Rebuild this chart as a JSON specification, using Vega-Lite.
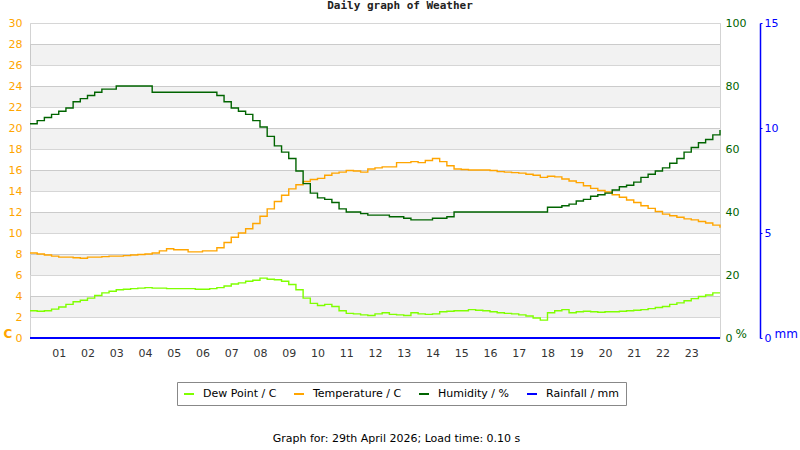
{
  "$schema": "https://vega.github.io/schema/vega-lite/v6.json",
  "width": 690,
  "height": 315,
  "autosize": {"type": "none"},
  "padding": {"left": 30, "top": 23, "right": 80, "bottom": 112},
  "background": "white",
  "title": {
    "text": "Daily graph of Weather",
    "font": "DejaVu Sans Mono",
    "fontSize": 11,
    "fontWeight": "bold",
    "color": "#222",
    "anchor": "middle",
    "dx": 25,
    "offset": 6
  },
  "config": {
    "font": "DejaVu Sans",
    "view": {"stroke": "#d3d3d3"},
    "axis": {"labelOverlap": false, "labelFlush": false, "tickCount": 50}
  },
  "datasets": {
    "bands": [
      {"lo": 2, "hi": 4}, {"lo": 6, "hi": 8}, {"lo": 10, "hi": 12}, {"lo": 14, "hi": 16},
      {"lo": 18, "hi": 20}, {"lo": 22, "hi": 24}, {"lo": 26, "hi": 28}
    ],
    "rain": [{"h": 0, "r": 0}, {"h": 24, "r": 0}],
    "w": [
      {"h": 0, "t": 8.1, "d": 2.6, "hm": 68},
      {"h": 0.25, "t": 8.0, "d": 2.55, "hm": 69},
      {"h": 0.5, "t": 7.9, "d": 2.6, "hm": 70},
      {"h": 0.75, "t": 7.8, "d": 2.75, "hm": 71},
      {"h": 1, "t": 7.7, "d": 2.95, "hm": 72},
      {"h": 1.25, "t": 7.7, "d": 3.2, "hm": 73},
      {"h": 1.5, "t": 7.65, "d": 3.45, "hm": 75},
      {"h": 1.75, "t": 7.6, "d": 3.6, "hm": 76},
      {"h": 2, "t": 7.7, "d": 3.8, "hm": 77},
      {"h": 2.25, "t": 7.7, "d": 4.05, "hm": 78},
      {"h": 2.5, "t": 7.75, "d": 4.3, "hm": 79},
      {"h": 2.75, "t": 7.8, "d": 4.45, "hm": 79},
      {"h": 3, "t": 7.8, "d": 4.6, "hm": 80},
      {"h": 3.25, "t": 7.85, "d": 4.65, "hm": 80},
      {"h": 3.5, "t": 7.9, "d": 4.7, "hm": 80},
      {"h": 3.75, "t": 7.95, "d": 4.75, "hm": 80},
      {"h": 4, "t": 8.0, "d": 4.8, "hm": 80},
      {"h": 4.25, "t": 8.1, "d": 4.75, "hm": 78},
      {"h": 4.5, "t": 8.3, "d": 4.75, "hm": 78},
      {"h": 4.75, "t": 8.5, "d": 4.7, "hm": 78},
      {"h": 5, "t": 8.4, "d": 4.7, "hm": 78},
      {"h": 5.25, "t": 8.4, "d": 4.7, "hm": 78},
      {"h": 5.5, "t": 8.2, "d": 4.7, "hm": 78},
      {"h": 5.75, "t": 8.2, "d": 4.65, "hm": 78},
      {"h": 6, "t": 8.3, "d": 4.65, "hm": 78},
      {"h": 6.25, "t": 8.3, "d": 4.7, "hm": 78},
      {"h": 6.5, "t": 8.6, "d": 4.8, "hm": 77},
      {"h": 6.75, "t": 9.1, "d": 4.95, "hm": 75},
      {"h": 7, "t": 9.6, "d": 5.15, "hm": 73},
      {"h": 7.25, "t": 10.0, "d": 5.25, "hm": 72},
      {"h": 7.5, "t": 10.4, "d": 5.4, "hm": 71},
      {"h": 7.75, "t": 10.9, "d": 5.5, "hm": 69},
      {"h": 8, "t": 11.6, "d": 5.7, "hm": 67},
      {"h": 8.25, "t": 12.3, "d": 5.6, "hm": 64},
      {"h": 8.5, "t": 13.0, "d": 5.55, "hm": 61},
      {"h": 8.75, "t": 13.6, "d": 5.4, "hm": 59},
      {"h": 9, "t": 14.2, "d": 5.1, "hm": 57},
      {"h": 9.25, "t": 14.6, "d": 4.6, "hm": 53},
      {"h": 9.5, "t": 14.9, "d": 3.8, "hm": 49},
      {"h": 9.75, "t": 15.1, "d": 3.3, "hm": 46},
      {"h": 10, "t": 15.2, "d": 3.1, "hm": 44.5},
      {"h": 10.25, "t": 15.5, "d": 3.2, "hm": 44},
      {"h": 10.5, "t": 15.7, "d": 3.0, "hm": 43},
      {"h": 10.75, "t": 15.8, "d": 2.6, "hm": 41},
      {"h": 11, "t": 15.95, "d": 2.35, "hm": 40},
      {"h": 11.25, "t": 15.9, "d": 2.3, "hm": 40},
      {"h": 11.5, "t": 15.8, "d": 2.2, "hm": 39.5},
      {"h": 11.75, "t": 16.1, "d": 2.15, "hm": 39},
      {"h": 12, "t": 16.2, "d": 2.3, "hm": 39},
      {"h": 12.25, "t": 16.3, "d": 2.4, "hm": 39},
      {"h": 12.5, "t": 16.3, "d": 2.25, "hm": 38.5},
      {"h": 12.75, "t": 16.7, "d": 2.2, "hm": 38.5},
      {"h": 13, "t": 16.7, "d": 2.15, "hm": 38},
      {"h": 13.25, "t": 16.8, "d": 2.4, "hm": 37.5},
      {"h": 13.5, "t": 16.7, "d": 2.3, "hm": 37.5},
      {"h": 13.75, "t": 16.9, "d": 2.25, "hm": 37.5},
      {"h": 14, "t": 17.1, "d": 2.3, "hm": 38},
      {"h": 14.25, "t": 16.8, "d": 2.5, "hm": 38},
      {"h": 14.5, "t": 16.4, "d": 2.55, "hm": 38.5},
      {"h": 14.75, "t": 16.1, "d": 2.6, "hm": 40},
      {"h": 15, "t": 16.05, "d": 2.6, "hm": 40},
      {"h": 15.25, "t": 16.0, "d": 2.7, "hm": 40},
      {"h": 15.5, "t": 16.0, "d": 2.65, "hm": 40},
      {"h": 15.75, "t": 16.0, "d": 2.6, "hm": 40},
      {"h": 16, "t": 15.95, "d": 2.5, "hm": 40},
      {"h": 16.25, "t": 15.85, "d": 2.4, "hm": 40},
      {"h": 16.5, "t": 15.8, "d": 2.35, "hm": 40},
      {"h": 16.75, "t": 15.75, "d": 2.3, "hm": 40},
      {"h": 17, "t": 15.7, "d": 2.2, "hm": 40},
      {"h": 17.25, "t": 15.6, "d": 2.1, "hm": 40},
      {"h": 17.5, "t": 15.5, "d": 1.9, "hm": 40},
      {"h": 17.75, "t": 15.3, "d": 1.7, "hm": 40},
      {"h": 18, "t": 15.4, "d": 2.4, "hm": 41.5},
      {"h": 18.25, "t": 15.35, "d": 2.6, "hm": 41.5},
      {"h": 18.5, "t": 15.15, "d": 2.7, "hm": 42},
      {"h": 18.75, "t": 14.95, "d": 2.4, "hm": 42.5},
      {"h": 19, "t": 14.8, "d": 2.5, "hm": 43.5},
      {"h": 19.25, "t": 14.5, "d": 2.55, "hm": 44},
      {"h": 19.5, "t": 14.25, "d": 2.5, "hm": 45},
      {"h": 19.75, "t": 14.05, "d": 2.45, "hm": 45.5},
      {"h": 20, "t": 13.9, "d": 2.5, "hm": 46},
      {"h": 20.25, "t": 13.65, "d": 2.5, "hm": 47},
      {"h": 20.5, "t": 13.4, "d": 2.55, "hm": 48},
      {"h": 20.75, "t": 13.15, "d": 2.6, "hm": 48.5},
      {"h": 21, "t": 12.9, "d": 2.65, "hm": 49.5},
      {"h": 21.25, "t": 12.6, "d": 2.7, "hm": 51},
      {"h": 21.5, "t": 12.35, "d": 2.8, "hm": 52},
      {"h": 21.75, "t": 12.05, "d": 2.9, "hm": 53},
      {"h": 22, "t": 11.8, "d": 3.0, "hm": 54},
      {"h": 22.25, "t": 11.65, "d": 3.2, "hm": 55.5},
      {"h": 22.5, "t": 11.5, "d": 3.35, "hm": 57},
      {"h": 22.75, "t": 11.35, "d": 3.55, "hm": 59},
      {"h": 23, "t": 11.25, "d": 3.75, "hm": 60.5},
      {"h": 23.25, "t": 11.1, "d": 3.95, "hm": 62},
      {"h": 23.5, "t": 10.95, "d": 4.1, "hm": 63},
      {"h": 23.75, "t": 10.75, "d": 4.3, "hm": 64.5},
      {"h": 24, "t": 10.5, "d": 4.3, "hm": 66}
    ]
  },
  "layer": [
    {
      "layer": [
        {
          "data": {"name": "bands"},
          "mark": {"type": "rect", "fill": "#000000", "fillOpacity": 0.05},
          "encoding": {
            "x": {"datum": 0, "type": "quantitative"},
            "x2": {"datum": 24},
            "y": {
              "field": "lo",
              "type": "quantitative",
              "scale": {"domain": [0, 30], "nice": false},
              "axis": {
                "values": [0, 2, 4, 6, 8, 10, 12, 14, 16, 18, 20, 22, 24, 26, 28, 30],
                "format": "d",
                "tickCount": 50,
                "labelOverlap": false,
                "labelFlush": false,
                "labelColor": "#ffa500",
                "labelFontSize": 11,
                "tickSize": 0,
                "labelPadding": 8,
                "domain": false,
                "gridColor": "#d6d6d6",
                "title": "C",
                "titleAngle": 0,
                "titleColor": "#ffa500",
                "titleFontWeight": "bold",
                "titleFontSize": 12,
                "titleX": -27,
                "titleY": 310,
                "titleAlign": "left",
                "titleBaseline": "middle"
              }
            },
            "y2": {"field": "hi"}
          }
        },
        {
          "data": {"name": "w"},
          "mark": {"type": "line", "interpolate": "step-after", "strokeWidth": 1.4},
          "encoding": {
            "x": {
              "field": "h",
              "type": "quantitative",
              "scale": {"domain": [0, 24], "nice": false},
              "axis": {
                "values": [1, 2, 3, 4, 5, 6, 7, 8, 9, 10, 11, 12, 13, 14, 15, 16, 17, 18, 19, 20, 21, 22, 23],
                "tickCount": 50,
                "labelExpr": "datum.value < 10 ? '0' + datum.value : '' + datum.value",
                "labelOverlap": false,
                "labelFlush": false,
                "tickSize": 0,
                "labelPadding": 9,
                "domain": false,
                "gridColor": "#d3d3d3",
                "labelColor": "#333333",
                "labelFontSize": 11,
                "title": "Graph for: 29th April 2026; Load time: 0.10 s",
                "titleFontWeight": "normal",
                "titleFontSize": 11,
                "titleColor": "#000000",
                "titleX": 366,
                "titleY": 100,
                "titleAlign": "center",
                "titleBaseline": "middle"
              }
            },
            "y": {"field": "d", "type": "quantitative", "title": "C"},
            "color": {
              "datum": "Dew Point / C",
              "scale": {
                "domain": ["Dew Point / C", "Temperature / C", "Humidity / %", "Rainfall / mm"],
                "range": ["#7fff00", "#ffa500", "#006400", "#0000ff"]
              },
              "legend": {
                "orient": "none",
                "legendX": 147,
                "legendY": 359,
                "direction": "horizontal",
                "title": null,
                "fillColor": "#ffffff",
                "strokeColor": "#888888",
                "padding": 6,
                "labelFontSize": 11,
                "labelColor": "#000000",
                "symbolType": "stroke",
                "symbolStrokeWidth": 2,
                "symbolSize": 100,
                "columnPadding": 13,
                "labelOffset": 8
              }
            }
          }
        },
        {
          "data": {"name": "w"},
          "mark": {"type": "line", "interpolate": "step-after", "strokeWidth": 1.4},
          "encoding": {
            "x": {"field": "h", "type": "quantitative"},
            "y": {"field": "t", "type": "quantitative", "title": "C"},
            "color": {"datum": "Temperature / C"}
          }
        }
      ]
    },
    {
      "data": {"name": "w"},
      "mark": {"type": "line", "interpolate": "step-after", "strokeWidth": 1.4},
      "encoding": {
        "x": {"field": "h", "type": "quantitative"},
        "y": {
          "field": "hm",
          "type": "quantitative",
          "scale": {"domain": [0, 100], "nice": false},
          "axis": {
            "orient": "right",
            "values": [0, 20, 40, 60, 80, 100],
            "format": "d",
            "tickCount": 50,
            "labelOverlap": false,
            "labelFlush": false,
            "labelColor": "#006400",
            "labelFontSize": 11,
            "tickSize": 0,
            "labelPadding": 5,
            "domain": false,
            "grid": false,
            "title": "%",
            "titleAngle": 0,
            "titleColor": "#006400",
            "titleFontWeight": "normal",
            "titleFontSize": 12,
            "titleX": 15,
            "titleY": 310,
            "titleAlign": "left",
            "titleBaseline": "middle"
          }
        },
        "color": {"datum": "Humidity / %"}
      }
    },
    {
      "data": {"name": "rain"},
      "mark": {"type": "line", "strokeWidth": 2},
      "encoding": {
        "x": {"field": "h", "type": "quantitative"},
        "y": {
          "field": "r",
          "type": "quantitative",
          "scale": {"domain": [0, 15], "nice": false},
          "axis": {
            "orient": "right",
            "offset": 40,
            "values": [0, 5, 10, 15],
            "format": "d",
            "tickCount": 50,
            "labelOverlap": false,
            "labelFlush": false,
            "labelColor": "#0000ff",
            "labelFontSize": 11,
            "domainColor": "#0000ff",
            "domainWidth": 1.5,
            "tickColor": "#0000ff",
            "tickSize": 2,
            "labelPadding": 2,
            "grid": false,
            "title": "mm",
            "titleAngle": 0,
            "titleColor": "#0000ff",
            "titleFontWeight": "normal",
            "titleFontSize": 12,
            "titleX": 14,
            "titleY": 310,
            "titleAlign": "left",
            "titleBaseline": "middle"
          }
        },
        "color": {"datum": "Rainfall / mm"}
      }
    }
  ],
  "resolve": {"scale": {"y": "independent"}}
}
